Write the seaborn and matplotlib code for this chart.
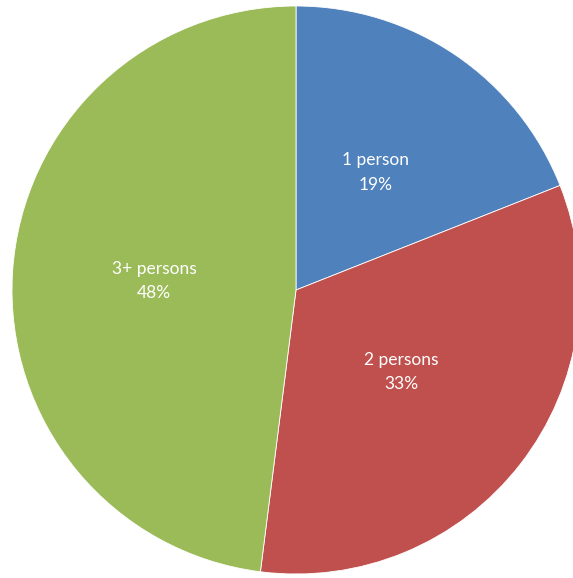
import numpy as np
import matplotlib
matplotlib.use("Agg")
import matplotlib.pyplot as plt
import seaborn as sns

categories = ["1 person", "2 persons", "3+ persons"]
shares = [19, 33, 48]
colors = ["#4F81BD", "#C0504D", "#9BBB59"]

sns.set_theme(style="white")
plt.rcParams['font.family'] = ['Lato', 'DejaVu Sans']

W, H = 573, 578
fig = plt.figure(figsize=(W / 100, H / 100), dpi=100)
cx, cy, R = 296, 290, 284
ax = fig.add_axes([(cx - R) / W, (H - cy - R) / H, 2 * R / W, 2 * R / H])
wedges, _ = ax.pie(shares, colors=colors, startangle=90, counterclock=False,
                   radius=1, wedgeprops=dict(edgecolor="white", linewidth=0.6))
ax.set_aspect("auto")
ax.set_xlim(-1, 1)
ax.set_ylim(-1, 1)
ax.axis("off")

dists = [0.50, 0.47, 0.50]
for w, cat, v, d in zip(wedges, categories, shares, dists):
    ang = np.deg2rad((w.theta1 + w.theta2) / 2)
    ax.text(d * np.cos(ang), d * np.sin(ang), f"{cat}\n{v}%", color="white",
            ha="center", va="center", fontsize=12.5, linespacing=1.65)

fig.savefig("out.png", dpi=100)
